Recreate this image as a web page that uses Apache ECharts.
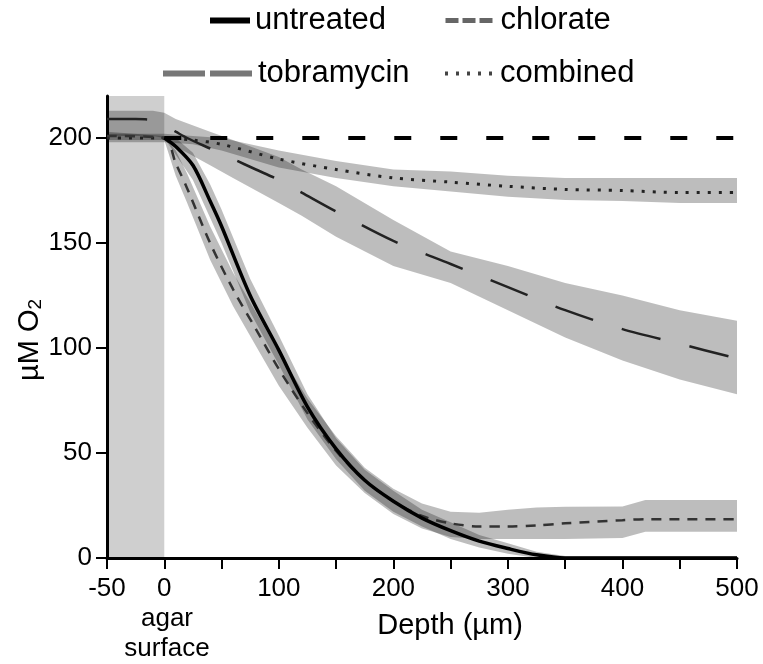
<!DOCTYPE html>
<html>
<head>
<meta charset="utf-8">
<script src="https://cdn.jsdelivr.net/npm/echarts@6/dist/echarts.min.js"></script>
<style>
html,body{margin:0;padding:0;background:#fff;}
#chart{width:763px;height:664px;}
</style>
</head>
<body>
<div id="chart"></div>
<script>
// ---------- data (depth in µm, O2 in µM) ----------
const xTickLabels = [-50, 0, 100, 200, 300, 400, 500];
const yTickValues = [0, 50, 100, 150, 200];
const agarRange = [-50, 0];
const agarNote = ['agar', 'surface'];

const untreatedDepth = [0,10,25,40,50,75,100,125,150,175,200,225,250,275,300,325,350,400,450,500];
const untreatedO2    = [200,196,187,170,158,125,99,72,52,37,27,19,13,8,4.5,1.5,0,0,0,0];
const untreatedLow   = [200,192,180,162,150,117,92,66,47,32,22,15,9,5,2,0,0,0,0,0];
const untreatedHigh  = [200,200,193,178,166,133,106,78,57,42,32,23,17,11,7,3,1,1,1,1];

const chlorateDepth = [-50,0,10,20,40,60,80,100,125,150,175,200,225,250,275,300,325,350,400,420,450,500];
const chlorateO2    = [201,200,188,176,150,128,109,90,69,51,37,27,20,16.5,15,15,15.5,16.5,18,18.5,18.5,18.5];
const chlorateLow   = [199,199,182,169,142,120,101,82,62,44,31,21,14,10,9,9,9,9,9.5,12.5,12.5,12.5];
const chlorateHigh  = [203,201,194,183,158,136,117,98,76,58,43,33,26,22,21.5,23,24,24.4,24.5,27.6,27.6,27.6];

const tobramycinDepth = [-50,-25,-10,0,10,20,40,60,80,100,120,150,200,250,300,350,400,450,500];
const tobramycinO2    = [209,209,208.5,206,203,200,195,190,185,180,174,165,151,140,129,118,109,102,95];
const tobramycinLow   = [201,201,201,200,196,193,187,181,175,169,163,153,139,131,118,105,94,85,78];
const tobramycinHigh  = [213,213,213,212,209,207,203,199,195,191,185,177,161,146,139,131,125,118,113];

const combinedDepth = [-50,0,25,50,100,150,200,250,300,350,400,450,500];
const combinedO2    = [200,200,199,197,190,185,181,179,177,175.5,175,174,174];
const combinedLow   = [198,198,197,194,186,181,177,174.5,172,170.5,170,169,169];
const combinedHigh  = [202,202,201,200,194,189,185,184,182,181,181,181,181];

const refDepth = [0, 500];
const refO2 = [200, 200];

// ---------- helpers ----------
const FONT = 'Liberation Sans, Arial, sans-serif';
const BAND = 'rgba(0,0,0,0.26)';
function pairs(xs, ys){ return xs.map((x,i)=>[x, ys[i]]); }
function band(id, xs, lo, hi){
  return {
    type:'custom', name:id+'-band', silent:true, z:1,
    data: xs.map((x,i)=>[x, lo[i], hi[i]]),
    encode:{x:0, y:[1,2]},
    renderItem:function(params, api){
      if (params.dataIndex !== 0) return null;
      const pts = [];
      for (let i = 0; i < xs.length; i++) pts.push(api.coord([xs[i], hi[i]]));
      for (let i = xs.length - 1; i >= 0; i--) pts.push(api.coord([xs[i], lo[i]]));
      return { type:'polygon', shape:{points:pts}, style:{fill:BAND} };
    }
  };
}

const series = [
  band('untreated', untreatedDepth, untreatedLow, untreatedHigh),
  band('chlorate', chlorateDepth, chlorateLow, chlorateHigh),
  band('tobramycin', tobramycinDepth, tobramycinLow, tobramycinHigh),
  band('combined', combinedDepth, combinedLow, combinedHigh),
  { type:'line', name:'agar', data:[], symbol:'none', silent:true,
    markArea:{ silent:true, itemStyle:{color:'rgba(0,0,0,0.19)'},
      data:[[{xAxis:agarRange[0], yAxis:0},{xAxis:agarRange[1], yAxis:220}]] } },
  { type:'line', name:'reference', data:pairs(refDepth, refO2), symbol:'none', clip:false, z:4,
    lineStyle:{color:'#000', width:4, type:[17,29], cap:'butt'} },
  { type:'line', name:'tobramycin', data:pairs(tobramycinDepth, tobramycinO2), symbol:'none', clip:false, z:3,
    smooth:0.3, itemStyle:{color:'#222'}, lineStyle:{color:'#222', width:2.5, type:[40,30]} },
  { type:'line', name:'combined', data:pairs(combinedDepth, combinedO2), symbol:'none', clip:false, z:3,
    smooth:0.3, itemStyle:{color:'#222'}, lineStyle:{color:'#222', width:3, type:[3,8]} },
  { type:'line', name:'chlorate', data:pairs(chlorateDepth, chlorateO2), symbol:'none', clip:false, z:3,
    smooth:0.3, itemStyle:{color:'#333'}, lineStyle:{color:'#333', width:2.5, type:[10,8]} },
  { type:'line', name:'untreated', data:pairs(untreatedDepth, untreatedO2), symbol:'none', clip:false, z:5,
    smooth:0.3, itemStyle:{color:'#000'}, lineStyle:{color:'#000', width:3.5} }
];

function legendItem(name, left, top, w, ls){
  return { data:[name], left:left, top:top, padding:0, itemWidth:w, itemHeight:14,
    selectedMode:false, lineStyle:ls, itemStyle:{opacity:0},
    textStyle:{fontFamily:FONT, fontSize:31, color:'#000'} };
}

const option = {
  animation:false,
  backgroundColor:'#fff',
  textStyle:{fontFamily:FONT},
  legend:[
    legendItem('untreated', 207, 5, 40, {color:'#000', width:6, type:'solid'}),
    legendItem('chlorate', 443, 5, 50, {color:'#666', width:5, type:[13,4]}),
    legendItem('tobramycin', 160, 58, 90, {color:'#777', width:6, type:[42,5]}),
    legendItem('combined', 443, 58, 50, {color:'#444', width:4, type:[3,8]})
  ],
  graphic:[
    { type:'text', left:167, top:604, silent:true,
      style:{ text:agarNote.join('\n'), fontFamily:FONT, fontSize:26, lineHeight:30, fill:'#000', align:'center' },
      x:167, y:604, left:null, top:null }
  ],
  grid:{left:107, right:26, top:96, bottom:106, outerBoundsMode:'none', containLabel:false},
  xAxis:{
    type:'value', min:-50, max:500, interval:50,
    name:'Depth (µm)', nameLocation:'middle', nameGap:53, nameMoveOverlap:false,
    nameTextStyle:{fontFamily:FONT, fontSize:29, color:'#000', padding:[0,0,0,56]},
    axisLine:{show:true, onZero:false, lineStyle:{color:'#000', width:3}},
    axisTick:{show:true, length:11, lineStyle:{color:'#000', width:2}},
    splitLine:{show:false},
    axisLabel:{ fontFamily:FONT, fontSize:26, color:'#000', margin:16, lineHeight:30,
      showMinLabel:true, showMaxLabel:true, hideOverlap:false,
      formatter:function(v){ return xTickLabels.indexOf(v) >= 0 ? String(v) : ''; } }
  },
  yAxis:{
    type:'value', min:0, max:220, interval:50,
    name:'{a|µM O}{b|2}', nameLocation:'middle', nameGap:62, nameRotate:90, nameMoveOverlap:false,
    nameTextStyle:{ fontFamily:FONT, color:'#000', padding:[0,0,0,-26],
      rich:{ a:{fontFamily:FONT, fontSize:29, color:'#000'},
             b:{fontFamily:FONT, fontSize:19, color:'#000', padding:[12,0,0,0]} } },
    axisLine:{show:true, onZero:false, lineStyle:{color:'#000', width:3}},
    axisTick:{show:true, length:11, lineStyle:{color:'#000', width:2}, customValues:yTickValues},
    splitLine:{show:false},
    axisLabel:{ fontFamily:FONT, fontSize:26, color:'#000', margin:15, customValues:yTickValues,
      formatter:function(v){ return yTickValues.indexOf(v) >= 0 ? String(v) : ''; } }
  },
  series:series
};

const chart = echarts.init(document.getElementById('chart'), null, {renderer:'canvas'});
chart.setOption(option);
</script>
</body>
</html>
